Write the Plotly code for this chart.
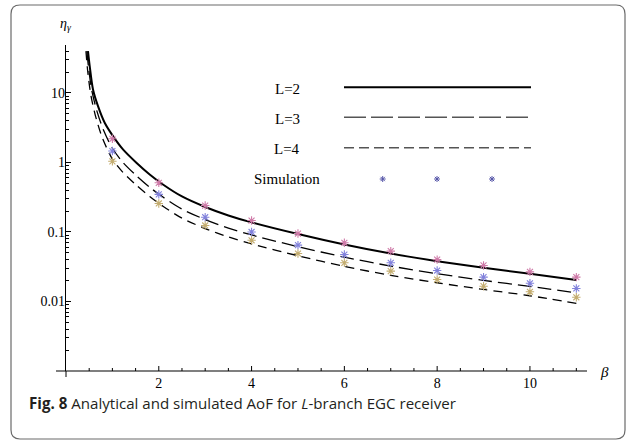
import plotly.graph_objects as go

# ---------------- data ----------------
beta_L2 = [0.474, 0.511, 0.582, 0.69, 0.834, 1.013, 1.228, 1.517, 1.804, 2.09, 2.5, 3, 3.5, 4, 5, 6, 7, 8, 9, 10, 11]
eta_L2 = [39.9, 24.3, 11.2, 6.45, 3.72, 2.39, 1.54, 0.99, 0.671, 0.482, 0.324, 0.229, 0.173, 0.1374,
          0.0933, 0.066, 0.0489, 0.038, 0.0305, 0.0251, 0.0204]

beta_L3 = [0.45, 0.49, 0.56, 0.67, 0.81, 1.0, 1.228, 1.517, 1.804, 2.09, 2.5, 3, 3.5, 4, 5, 6, 7, 8, 9, 10, 11]
eta_L3 = [40, 22, 10.5, 5.4, 2.9, 1.6, 1.0, 0.645, 0.44, 0.318, 0.213, 0.151, 0.114, 0.0905, 0.0615,
          0.0435, 0.0323, 0.0251, 0.0201, 0.0165, 0.0133]

beta_L4 = [0.43, 0.47, 0.54, 0.65, 0.79, 1.0, 1.228, 1.517, 1.804, 2.09, 2.5, 3, 3.5, 4, 5, 6, 7, 8, 9, 10, 11]
eta_L4 = [40, 20, 9, 4.3, 2.2, 1.12, 0.72, 0.47, 0.325, 0.235, 0.158, 0.112, 0.085, 0.0675, 0.0455,
          0.032, 0.0238, 0.0186, 0.0149, 0.0121, 0.0094]

beta_sim = [1, 2, 3, 4, 5, 6, 7, 8, 9, 10, 11]
sim_L2 = [2.19, 0.51, 0.24, 0.146, 0.095, 0.070, 0.053, 0.040, 0.033, 0.0267, 0.0224]
sim_L3 = [1.46, 0.347, 0.163, 0.10, 0.0646, 0.0474, 0.036, 0.0279, 0.0224, 0.0183, 0.0154]
sim_L4 = [1.04, 0.257, 0.124, 0.076, 0.049, 0.036, 0.0273, 0.0207, 0.0166, 0.0138, 0.0115]

x_ticks = [2, 4, 6, 8, 10]
x_minor_ticks = [0.5, 1, 1.5, 2.5, 3, 3.5, 4.5, 5, 5.5, 6.5, 7, 7.5, 8.5, 9, 9.5, 10.5, 11]
y_ticks = [0.01, 0.1, 1, 10]
y_ticktext = ["0.01", "0.1", "1", "10"]
y_minor_ticks = [v * k for v in [0.001, 0.01, 0.1, 1, 10] for k in range(2, 10)]

legend_labels = ["L=2", "L=3", "L=4", "Simulation"]
caption = "<b>Fig. 8</b> Analytical and simulated AoF for <i>L</i>-branch EGC receiver"

# ---------------- layout geometry ----------------
W, H = 635, 442
ML, MR, MT, MB = 66, 48, 45, 71
PW, PH = W - ML - MR, H - MT - MB
X_MIN, X_MAX = 0, 11.23
Y_MIN, Y_MAX = -3, 1.69


def fx(px):
    return (px - ML) / PW


def fy(py):
    return (H - MB - py) / PH


def px2beta(px):
    return X_MIN + fx(px) * (X_MAX - X_MIN)


def py2eta(py):
    return 10 ** (Y_MIN + fy(py) * (Y_MAX - Y_MIN))


SERIF = "Liberation Serif, Times New Roman, serif"
sim_colors = ["#cf7aa8", "#8282dc", "#c4ad70"]

fig = go.Figure()

line_styles = [
    (beta_L2, eta_L2, dict(color="black", width=2.0, dash="solid")),
    (beta_L3, eta_L3, dict(color="black", width=1.3, dash="14px,6px")),
    (beta_L4, eta_L4, dict(color="black", width=1.3, dash="9px,6px")),
]
for bx, by, ln in line_styles:
    fig.add_trace(go.Scatter(x=bx, y=by, mode="lines", line=dict(shape="spline", smoothing=0.8, **ln),
                             showlegend=False, hoverinfo="skip"))

for vals, col in zip([sim_L2, sim_L3, sim_L4], sim_colors):
    fig.add_trace(go.Scatter(x=beta_sim, y=vals, mode="markers",
                             marker=dict(symbol="asterisk-open", size=7, color=col,
                                         line=dict(color=col, width=1.1)),
                             showlegend=False, hoverinfo="skip"))

# legend sample stars
fig.add_trace(go.Scatter(x=[px2beta(382.7), px2beta(437), px2beta(492)], y=[py2eta(179)] * 3,
                         mode="markers",
                         marker=dict(symbol="asterisk-open", size=5, color="#5656a8",
                                     line=dict(color="#5656a8", width=1.0)),
                         showlegend=False, hoverinfo="skip"))

shapes = []
# rounded border
x0, x1, y0, y1, r = 11, 625, 5, 439, 9
path = (f"M {fx(x0 + r)},{fy(y0)} L {fx(x1 - r)},{fy(y0)} Q {fx(x1)},{fy(y0)} {fx(x1)},{fy(y0 + r)} "
        f"L {fx(x1)},{fy(y1 - r)} Q {fx(x1)},{fy(y1)} {fx(x1 - r)},{fy(y1)} "
        f"L {fx(x0 + r)},{fy(y1)} Q {fx(x0)},{fy(y1)} {fx(x0)},{fy(y1 - r)} "
        f"L {fx(x0)},{fy(y0 + r)} Q {fx(x0)},{fy(y0)} {fx(x0 + r)},{fy(y0)} Z")
shapes.append(dict(type="path", xref="paper", yref="paper", path=path,
                   line=dict(color="#6a6a6a", width=1.2)))

# x axis line (extends slightly left of the origin) and origin tick below it
shapes.append(dict(type="line", xref="paper", yref="paper", x0=fx(56), x1=1, y0=0, y1=0,
                   line=dict(color="black", width=1.2)))
shapes.append(dict(type="line", xref="paper", yref="paper", x0=0, x1=0, y0=0, y1=fy(377),
                   line=dict(color="black", width=1.0)))
# x ticks placed through the x data scale
for tv in x_ticks:
    shapes.append(dict(type="line", xref="x", yref="paper", x0=tv, x1=tv, y0=0, y1=fy(366),
                       line=dict(color="black", width=1.0)))
for tv in x_minor_ticks:
    shapes.append(dict(type="line", xref="x", yref="paper", x0=tv, x1=tv, y0=0, y1=fy(368),
                       line=dict(color="black", width=1.0)))

# legend sample lines
leg_y = [87.3, 117.3, 147.7]
leg_dash = ["solid", "22px,5px", "10px,5px"]
leg_col = ["black", "#555555", "#555555"]
leg_w = [2.0, 1.5, 1.5]
for yy, d, c, w in zip(leg_y, leg_dash, leg_col, leg_w):
    shapes.append(dict(type="line", xref="paper", yref="paper",
                       x0=fx(344), x1=fx(531), y0=fy(yy), y1=fy(yy),
                       line=dict(color=c, width=w, dash=d)))

annotations = []
for lab, yy in zip(legend_labels, [89, 119, 148.5, 178.5]):
    annotations.append(dict(text=lab, x=fx(287), y=fy(yy), xref="paper", yref="paper",
                            showarrow=False, xanchor="center", yanchor="middle",
                            font=dict(family=SERIF, size=15, color="black")))

annotations.append(dict(text="<i>η<sub>γ</sub></i>", x=fx(66), y=fy(25), xref="paper", yref="paper",
                        showarrow=False, xanchor="center", yanchor="middle",
                        font=dict(family=SERIF, size=14, color="black")))
annotations.append(dict(text="<i>β</i>", x=fx(604), y=fy(372), xref="paper", yref="paper",
                        showarrow=False, xanchor="center", yanchor="middle",
                        font=dict(family=SERIF, size=15, color="black")))
annotations.append(dict(text=caption, x=fx(27), y=fy(403), xref="paper", yref="paper",
                        showarrow=False, xanchor="left", yanchor="middle",
                        font=dict(family="Open Sans, Noto Sans, sans-serif", size=15.1, color="#231f20")))

fig.update_layout(
    width=W, height=H,
    margin=dict(l=ML, r=MR, t=MT, b=MB, pad=0),
    paper_bgcolor="white", plot_bgcolor="rgba(0,0,0,0)",
    showlegend=False,
    shapes=shapes, annotations=annotations,
    xaxis=dict(range=[X_MIN, X_MAX], tickmode="array", tickvals=x_ticks,
               ticks="", showline=False,
               showgrid=False, zeroline=False, ticklabelstandoff=2,
               tickfont=dict(family=SERIF, size=14, color="black")),
    yaxis=dict(type="log", range=[Y_MIN, Y_MAX], tickmode="array", tickvals=y_ticks, ticktext=y_ticktext,
               ticklabelstandoff=-3,
               ticks="inside", ticklen=5, tickwidth=1, tickcolor="black",
               showline=True, linecolor="black", linewidth=1.2, showgrid=False, zeroline=False,
               minor=dict(tickmode="array", tickvals=y_minor_ticks, ticks="inside", ticklen=2.5,
                          tickcolor="black", showgrid=False),
               tickfont=dict(family=SERIF, size=14, color="black")),
)

fig.write_html("out.html", config={"displayModeBar": False},
               post_script="document.body.style.margin='0';document.body.style.overflow='hidden';")
